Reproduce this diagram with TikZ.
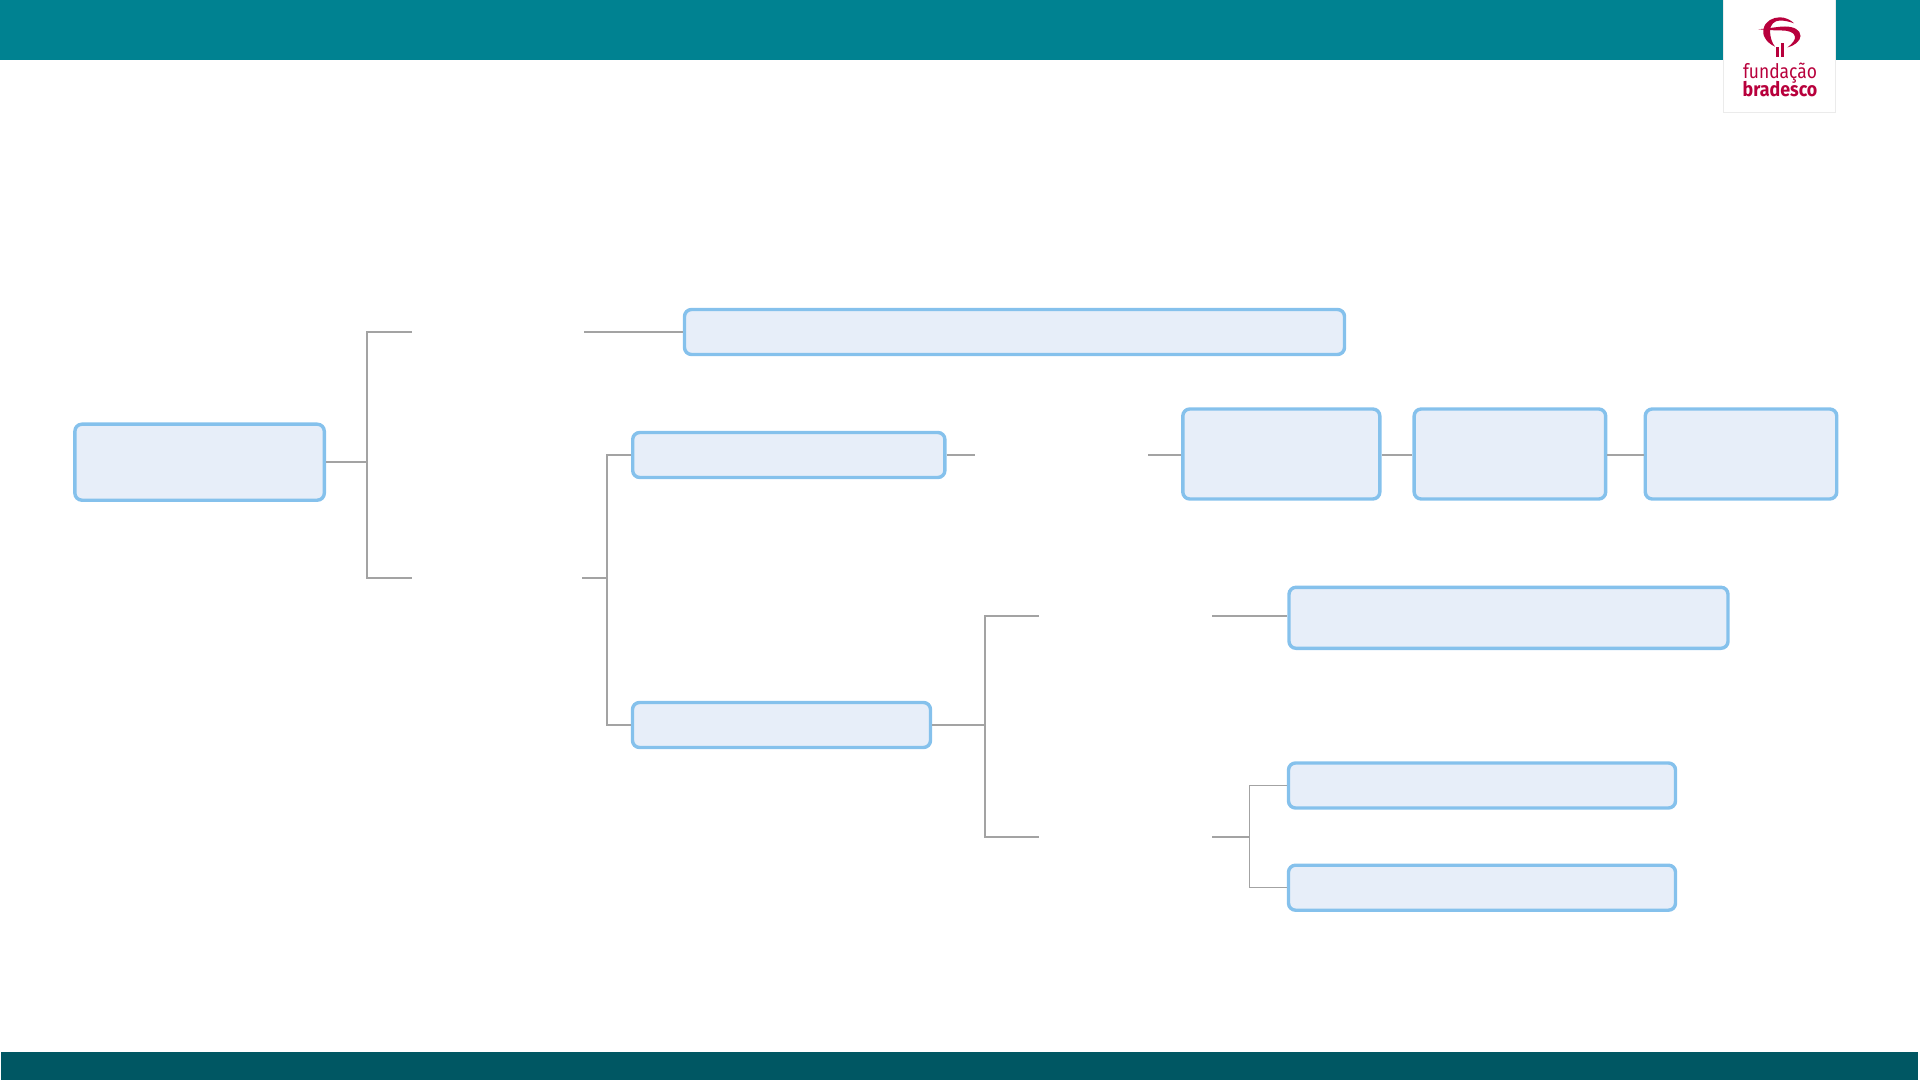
\documentclass[tikz,border=0pt]{standalone}
\usepackage{fontspec}
\usetikzlibrary{positioning}
\setmainfont{Fira Sans}
\definecolor{topbar}{HTML}{008291}
\definecolor{botbar}{HTML}{005763}
\definecolor{boxfill}{HTML}{E7EEF9}
\definecolor{boxline}{HTML}{85C1EC}
\definecolor{linkgray}{HTML}{A3A3A3}
\definecolor{logored}{HTML}{B8003C}
\tikzset{
  mapbox/.style={draw=boxline, fill=boxfill, line width=0.034cm, rounded corners=0.07cm, inner sep=0pt},
  link/.style={draw=linkgray, line width=0.022cm},
  thinlink/.style={draw=linkgray, line width=0.013cm},
  logotext/.style={text=logored, inner sep=0pt, anchor=base, transform shape}
}

\begin{document}
\begin{tikzpicture}
    \useasboundingbox (0, 0) rectangle (19.2, -10.8);
    \fill [topbar] (0, 0) rectangle (19.2, -0.6);
    \fill [botbar] (0.01, -10.52) rectangle (19.18, -10.8);

    % logo
    \draw [fill=white, draw=black!8, line width=0.01cm] (17.235, 0.02) rectangle (18.355, -1.123);
    \fill [logored] (17.583, -0.293) .. controls (17.72, -0.28) and (17.79, -0.265) .. (17.85, -0.265)
      .. controls (17.94, -0.265) and (18.005, -0.3) .. (18.005, -0.36)
      .. controls (18.005, -0.41) and (17.94, -0.46) .. (17.873, -0.475)
      .. controls (17.92, -0.44) and (17.955, -0.4) .. (17.95, -0.365)
      .. controls (17.94, -0.32) and (17.88, -0.305) .. (17.82, -0.305)
      .. controls (17.76, -0.305) and (17.68, -0.3) .. (17.583, -0.293) -- cycle;
    \fill [logored] (17.75, -0.467) .. controls (17.65, -0.42) and (17.62, -0.34) .. (17.635, -0.29)
      .. controls (17.65, -0.21) and (17.73, -0.173) .. (17.8, -0.173)
      .. controls (17.85, -0.173) and (17.91, -0.2) .. (17.94, -0.233)
      .. controls (17.89, -0.215) and (17.84, -0.205) .. (17.8, -0.205)
      .. controls (17.74, -0.205) and (17.7, -0.25) .. (17.7, -0.31)
      .. controls (17.7, -0.37) and (17.72, -0.43) .. (17.75, -0.467) -- cycle;
    \fill [logored] (17.757, -0.47) rectangle (17.793, -0.57);
    \fill [logored] (17.807, -0.435) rectangle (17.84, -0.57);
    \node [logotext, xscale=0.87, font=\fontsize{5.7}{5.7}\selectfont] at (17.8, -0.79) (fundacao) {fundação};
    \node [logotext, xscale=0.89, font=\fontsize{5.7}{5.7}\selectfont\bfseries] at (17.8, -0.967) (bradesco) {bradesco};

    \node [mapbox, minimum width=2.494cm, minimum height=0.76cm] at (1.996, -4.622) (main) {};
    \node [mapbox, minimum width=6.6cm, minimum height=0.45cm] at (10.145, -3.32) (top) {};
    \node [mapbox, minimum width=3.122cm, minimum height=0.45cm] at (7.888, -4.55) (upper) {};
    \node [mapbox, minimum width=2.98cm, minimum height=0.45cm] at (7.815, -7.25) (lower) {};
    \node [mapbox, minimum width=1.97cm, minimum height=0.9cm] at (12.813, -4.54) (stepa) {};
    \node [mapbox, minimum width=1.915cm, minimum height=0.9cm] at (15.099, -4.54) (stepb) {};
    \node [mapbox, minimum width=1.915cm, minimum height=0.9cm] at (17.41, -4.54) (stepc) {};
    \node [mapbox, minimum width=4.39cm, minimum height=0.61cm] at (15.085, -6.178) (wide) {};
    \node [mapbox, minimum width=3.87cm, minimum height=0.45cm] at (14.82, -7.855) (lefta) {};
    \node [mapbox, minimum width=3.87cm, minimum height=0.45cm] at (14.82, -8.877) (leftb) {};

    \coordinate (mainj) at (3.67, -4.622);
    \coordinate (gap1in) at (4.12, -3.32);
    \coordinate (gap1out) at (5.84, -3.32);
    \coordinate (gap2in) at (4.12, -5.777);
    \coordinate (gap2out) at (5.82, -5.777);
    \coordinate (gap2j) at (6.067, -5.777);
    \coordinate (gap3in) at (9.75, -4.55);
    \coordinate (gap3out) at (11.48, -4.55);
    \coordinate (lowerj) at (9.85, -7.25);
    \coordinate (gap4in) at (10.39, -6.16);
    \coordinate (gap4out) at (12.12, -6.16);
    \coordinate (gap5in) at (10.39, -8.367);
    \coordinate (gap5out) at (12.12, -8.367);
    \coordinate (gap5j) at (12.496, -8.367);

    \draw [link] (main.east) -- (mainj);
    \draw [link] (gap1in) -| (mainj) |- (gap2in);
    \draw [link] (gap1out) -- (top.west);
    \draw [link] (gap2out) -- (gap2j);
    \draw [link] (upper.west) -| (gap2j) |- (lower.west);
    \draw [link] (upper.east) -- (gap3in);
    \draw [link] (gap3out) -- (gap3out -| stepa.west);
    \draw [link] (gap3out -| stepa.east) -- (gap3out -| stepb.west);
    \draw [link] (gap3out -| stepb.east) -- (gap3out -| stepc.west);
    \draw [link] (lower.east) -- (lowerj);
    \draw [link] (gap4in) -| (lowerj) |- (gap5in);
    \draw [link] (gap4out) -- (gap4out -| wide.west);
    \draw [link] (gap5out) -- (gap5j);
    \draw [thinlink] (lefta.west) -| (gap5j) |- (leftb.west);
  \end{tikzpicture}
\end{document}
